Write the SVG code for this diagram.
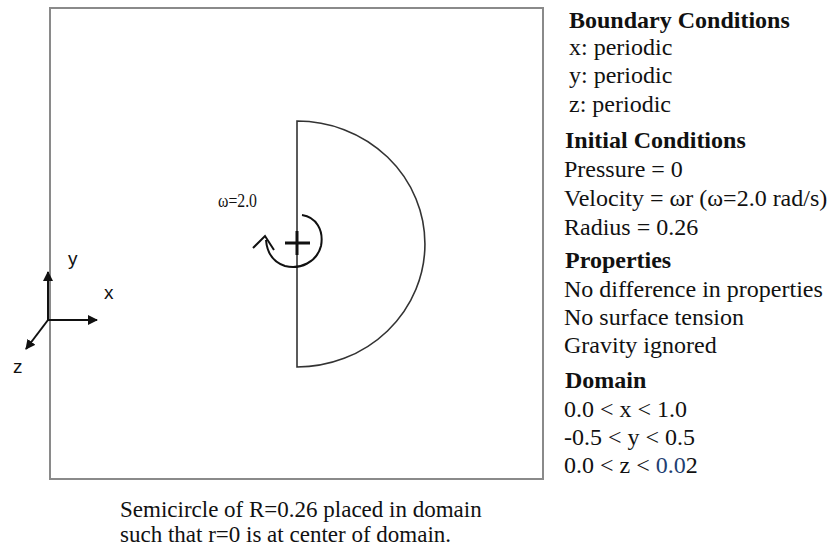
<svg xmlns="http://www.w3.org/2000/svg" width="838" height="548" viewBox="0 0 838 548">
<defs>
<style>
.serif{font-family:"Liberation Serif","Times New Roman",serif;fill:#111}
.r{font-size:24px}
.b{font-size:24px;font-weight:bold}
.sans{font-family:"Liberation Sans",Arial,sans-serif;font-size:19px;fill:#111}
.ax{stroke:#111;stroke-width:2;fill:none;marker-end:url(#ah)}
</style>
<marker id="ah" viewBox="0 0 10 10" refX="9" refY="5" markerWidth="5" markerHeight="5" orient="auto" markerUnits="strokeWidth">
<path d="M0,0 L10,5 L0,10 Z" fill="#111"/>
</marker>
</defs>
<rect width="838" height="548" fill="#fff"/>
<g id="domain">
<rect x="50" y="8" width="493" height="471" fill="none" stroke="#8a8a8a" stroke-width="2"/>
</g>
<g id="semicircle">
<path d="M297,121 A128,123 0 0 1 297,367 Z" fill="none" stroke="#333" stroke-width="1.6"/>
</g>
<g id="rotation">
<path d="M302,215 C316,217 324,230 321,246 C317,262 300,270 285,266 C273,262 267,252 266,240" fill="none" stroke="#111" stroke-width="2"/>
<path d="M253,248 L265,236 L274,250" fill="none" stroke="#111" stroke-width="2"/>
<path d="M285,243 H310 M297,231 V255" stroke="#111" stroke-width="3"/>
<text class="serif" x="218" y="207" style="font-size:18px" textLength="39" lengthAdjust="spacingAndGlyphs">ω=2.0</text>
</g>
<g id="axes">
<line class="ax" x1="48" y1="320" x2="48" y2="272"/>
<line class="ax" x1="48" y1="320" x2="97" y2="320"/>
<line class="ax" x1="48" y1="320" x2="26" y2="349"/>
<text class="sans" x="68" y="265">y</text>
<text class="sans" x="104" y="299">x</text>
<text class="sans" x="13" y="373">z</text>
</g>
<g id="legend" class="serif">
<text class="b" x="569" y="28">Boundary Conditions</text>
<text class="r" x="569" y="55">x: periodic</text>
<text class="r" x="569" y="83">y: periodic</text>
<text class="r" x="569" y="112">z: periodic</text>
<text class="b" x="565" y="148">Initial Conditions</text>
<text class="r" x="564" y="177">Pressure = 0</text>
<text class="r" x="564" y="206">Velocity = ωr (ω=2.0 rad/s)</text>
<text class="r" x="564" y="235">Radius = 0.26</text>
<text class="b" x="565" y="268">Properties</text>
<text class="r" x="564" y="297">No difference in properties</text>
<text class="r" x="564" y="325">No surface tension</text>
<text class="r" x="564" y="353">Gravity ignored</text>
<text class="b" x="565" y="388">Domain</text>
<text class="r" x="564" y="417">0.0 &lt; x &lt; 1.0</text>
<text class="r" x="564" y="445">-0.5 &lt; y &lt; 0.5</text>
<text class="r" x="564" y="473">0.0 &lt; z &lt; <tspan fill="#1f3f73">0.0</tspan>2</text>
</g>
<g id="caption" class="serif" font-size="23">
<text x="120" y="517">Semicircle of R=0.26 placed in domain</text>
<text x="120" y="542">such that r=0 is at center of domain.</text>
</g>
</svg>
